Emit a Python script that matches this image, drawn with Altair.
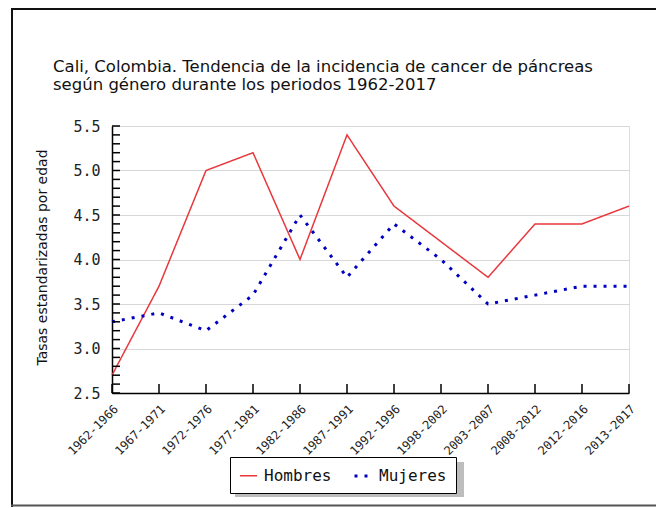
import altair as alt
import pandas as pd

periodos = ["1962-1966", "1967-1971", "1972-1976", "1977-1981", "1982-1986",
            "1987-1991", "1992-1996", "1998-2002", "2003-2007", "2008-2012",
            "2012-2016", "2013-2017"]
hombres = [2.7, 3.7, 5.0, 5.2, 4.0, 5.4, 4.6, 4.2, 3.8, 4.4, 4.4, 4.6]
mujeres = [3.3, 3.4, 3.2, 3.6, 4.5, 3.8, 4.4, 4.0, 3.5, 3.6, 3.7, 3.7]
series = ["Hombres", "Mujeres"]
y_major = [2.5, 3.0, 3.5, 4.0, 4.5, 5.0, 5.5]
y_minor = [2.5, 2.6, 2.7, 2.8, 2.9, 3.0, 3.1, 3.2, 3.3, 3.4, 3.5, 3.6, 3.7, 3.8,
           3.9, 4.0, 4.1, 4.2, 4.3, 4.4, 4.5, 4.6, 4.7, 4.8, 4.9, 5.0, 5.1, 5.2,
           5.3, 5.4, 5.5]
title_lines = ["Cali, Colombia. Tendencia de la incidencia de cancer de páncreas",
               " según género durante los periodos 1962-2017"]

W, H = 517, 267

df = pd.DataFrame({
    "Periodo": periodos * 2,
    "Tasa": hombres + mujeres,
    "Sexo": ["Hombres"] * len(periodos) + ["Mujeres"] * len(periodos),
})

xscale = alt.Scale(type="point", padding=0, domain=periodos)
yscale = alt.Scale(domain=[2.5, 5.5], nice=False, zero=False)

mono = "DejaVu Sans Mono"

leg = dict(title=None, orient="none", legendX=118, legendY=331,
           direction="horizontal", symbolType="stroke",
           symbolSize=289, symbolStrokeWidth=3,
           labelFont=mono, labelFontSize=16, labelColor="#111",
           labelOffset=6, columnPadding=16, padding=9,
           strokeColor="#000", fillColor="#fff")

lines = alt.Chart(df).mark_line(strokeCap="butt").encode(
    x=alt.X("Periodo:N", scale=xscale, sort=periodos,
            axis=alt.Axis(title=None, labelAngle=-45, tickSize=0, labelPadding=10,
                          labelFont=mono, labelFontSize=12, labelColor="#222",
                          domainColor="#000", domainWidth=1.5, grid=False)),
    y=alt.Y("Tasa:Q", scale=yscale,
            axis=alt.Axis(title="Tasas estandarizadas por edad", values=y_major,
                          format=".1f", tickSize=0, labelPadding=12,
                          labelFont=mono, labelFontSize=15, labelColor="#222",
                          domainColor="#000", domainWidth=1.5,
                          grid=True, gridColor="#d8d8d8", gridWidth=1,
                          titleFont="DejaVu Sans", titleFontSize=14,
                          titleFontWeight="normal", titleColor="#111",
                          titleX=-70, titleY=131, titleAngle=-90,
                          titleAlign="center", titleBaseline="middle")),
    color=alt.Color("Sexo:N",
                    scale=alt.Scale(domain=series, range=["#e8383d", "#0000c0"]),
                    legend=alt.Legend(**leg)),
    strokeDash=alt.StrokeDash("Sexo:N",
                              scale=alt.Scale(domain=series, range=[[1, 0], [3, 7]]),
                              legend=alt.Legend(**leg)),
    strokeWidth=alt.StrokeWidth("Sexo:N",
                                scale=alt.Scale(domain=series, range=[1.5, 3]),
                                legend=None),
)

xticks = alt.Chart(pd.DataFrame({"Periodo": periodos})).mark_rule(
    color="#000", strokeWidth=1.5).encode(
    x=alt.X("Periodo:N", scale=xscale, sort=periodos),
    y=alt.value(H), y2=alt.value(H - 9))

yticks = alt.Chart(pd.DataFrame({"Tasa": y_minor})).mark_rule(
    color="#000", strokeWidth=1.5).encode(
    y=alt.Y("Tasa:Q", scale=yscale),
    x=alt.value(0), x2=alt.value(8))

one = pd.DataFrame({"k": [0]})

shadow = alt.Chart(one).mark_rect(color="#bdbdbd").encode(
    x=alt.value(123), x2=alt.value(352), y=alt.value(336), y2=alt.value(371))

frame_left = alt.Chart(one).mark_rule(color="#111", strokeWidth=2).encode(
    x=alt.value(-100), y=alt.value(-118), y2=alt.value(381))
frame_top = alt.Chart(one).mark_rule(color="#111", strokeWidth=2).encode(
    y=alt.value(-117), x=alt.value(-101), x2=alt.value(560))
frame_bottom = alt.Chart(one).mark_rule(color="#555", strokeWidth=2).encode(
    y=alt.value(379.5), x=alt.value(-101), x2=alt.value(560))

t1 = alt.Chart(one).mark_text(align="left", baseline="alphabetic", font="DejaVu Sans",
                              fontSize=16.5, color="#111", text=title_lines[0]).encode(
    x=alt.value(-59), y=alt.value(-54))
t2 = alt.Chart(one).mark_text(align="left", baseline="alphabetic", font="DejaVu Sans",
                              fontSize=16.5, color="#111", text=title_lines[1]).encode(
    x=alt.value(-59), y=alt.value(-36.5))

chart = alt.layer(frame_left, frame_top, frame_bottom, t1, t2, shadow, lines,
                  xticks, yticks).properties(
    width=W, height=H,
    autosize=alt.AutoSizeParams(type="none"),
    padding={"left": 104, "top": 118, "right": 27, "bottom": 114},
).configure_view(stroke=None).configure(background="#fff")

chart.save("out.html", embed_options={"renderer": "svg", "actions": False})
